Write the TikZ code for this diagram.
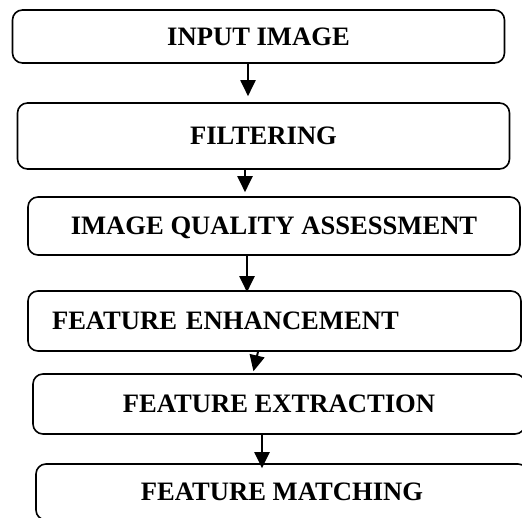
\documentclass[tikz,border=0pt]{standalone}
\usepackage{fontspec}
\setmainfont{Liberation Serif}
\usetikzlibrary{arrows.meta}

\tikzset{	stagebox/.style={draw,rounded corners=10pt,line width=1.6pt,minimum width=492pt,
				inner sep=0pt,text height=17.5pt,text depth=0pt,
				font=\fontsize{26.6}{30}\selectfont\bfseries},
		flowarrow/.style={line width=2pt,-{Triangle[length=16pt,width=15pt]}}
				}

\begin{document}
\begin{tikzpicture}[x=1pt,y=1pt]

	\useasboundingbox (0,0) rectangle (522,517);
	\clip (0,0) rectangle (522,517);

        % stufen der verarbeitung
	\node[stagebox,minimum height=53pt] (input) at (258.5,480.5) {INPUT IMAGE};
	\node[stagebox,minimum height=66pt] (filter) at (263.5,381) {FILTERING};
	\node[stagebox,minimum height=58pt] (quality) at (274,291) {IMAGE QUALITY ASSESSMENT};
	\node[stagebox,minimum height=60pt,text width=445pt,align=left,inner xsep=24pt] (enhance) at (274.5,196) {FEATURE ENHANCEMENT};
	\node[stagebox,minimum height=60pt] (extract) at (279,113) {FEATURE EXTRACTION};
	\node[stagebox,minimum height=56pt] (match) at (282,25) {FEATURE MATCHING};

        % pfeile
	\draw[flowarrow,shorten >=6pt] ([xshift=-10.5pt]input.south)--([xshift=-15.5pt]filter.north);
	\draw[flowarrow,shorten >=4pt] ([xshift=-18.5pt]filter.south)--([xshift=-29pt]quality.north);
	\draw[flowarrow,shorten >=-2pt] ([xshift=-27pt]quality.south)--([xshift=-27.5pt]enhance.north);
	\draw[flowarrow,shorten >=2pt] ([xshift=-16.5pt]enhance.south)--([xshift=-26pt]extract.north);
	\draw[flowarrow,shorten >=-5pt] ([xshift=-17pt]extract.south)--([xshift=-20pt]match.north);
\end{tikzpicture}
\end{document}
